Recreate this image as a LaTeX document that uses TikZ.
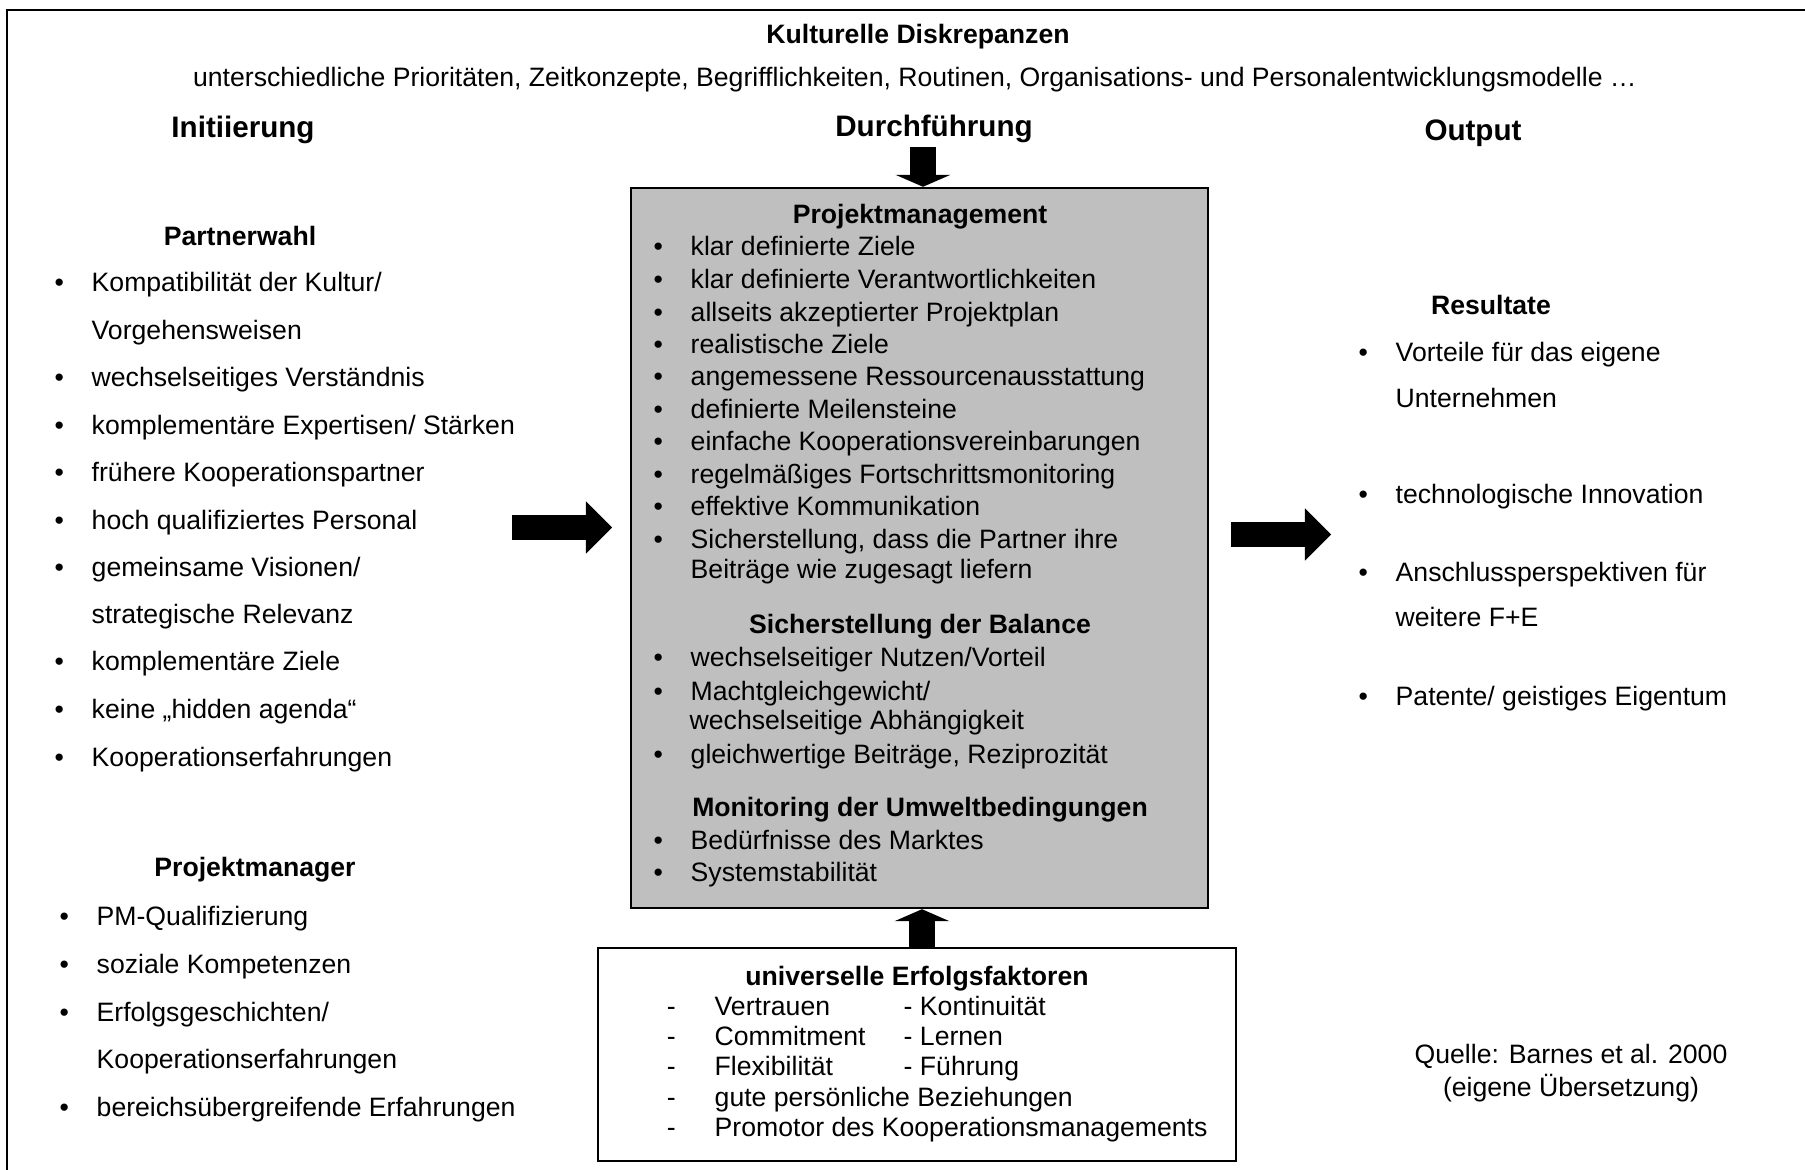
\documentclass[tikz,border=0pt]{standalone}
\usepackage{fontspec}
\setmainfont{Liberation Sans}
\usetikzlibrary{arrows.meta}
\newcommand\txtfont{\fontsize{7.57pt}{9.2pt}\selectfont}
\newcommand\hdfont{\fontsize{8.42pt}{10pt}\selectfont\bfseries}
\tikzset{
    txt/.style={anchor=west,inner sep=0pt,text height=1.76mm,text depth=0mm,font=\txtfont},
    hd/.style={inner sep=0pt,text height=1.76mm,text depth=0mm,font=\txtfont\bfseries},
    phase/.style={inner sep=0pt,text height=1.95mm,text depth=0mm,font=\hdfont},
    itm/.style={txt,label={[inner sep=0pt,label distance=2.63mm,text height=1.76mm,text depth=0mm,font=\txtfont]left:\textbullet}},
    dsh/.style={txt,label={[inner sep=0pt,label distance=3.76mm,text height=1.76mm,text depth=0mm,font=\txtfont]left:-}},
    fatarrow/.style={line width=2.5mm,-{Triangle[length=2.6mm,width=5.2mm,line width=0pt]}},
    flatarrow/.style={line width=2.6mm,-{Triangle[length=1.2mm,width=5.5mm,line width=0pt]}},
    box/.style={draw,line width=0.2mm,inner sep=0pt}
}
\begin{document}
\begin{tikzpicture}[x=0.01cm,y=-0.01cm]
    \useasboundingbox (0,0) rectangle (1805,1170);
    \draw[line width=0.15mm] (1805,10) -- (7,10) -- (7,1170);
    % header
    \node[hd] (kd) at (918,35) {Kulturelle Diskrepanzen};
    \node[hd,font=\txtfont] (kdtxt) at (915,78) {unterschiedliche Prioritäten, Zeitkonzepte, Begrifflichkeiten, Routinen, Organisations- und Personalentwicklungsmodelle …};
    \node[phase] (init) at (243,128) {Initiierung};
    \node[phase] (durch) at (934,127) {Durchführung};
    \node[phase] (outp) at (1473,131) {Output};
    % boxes
    \node[box,fill=gray!50,minimum width=5.77cm,minimum height=7.20cm] (pm) at (919.5,548) {};
    \node[box,fill=white,minimum width=6.38cm,minimum height=2.13cm] (uef) at (917,1054.5) {};
    % arrows
    \coordinate (inl) at (512,527.5); \coordinate (inr) at (612,527.5);
    \coordinate (outl) at (1231,534.5); \coordinate (outr) at (1331,534.5);
    \coordinate (pmin) at (923,147); \coordinate (upx) at (922,0);
    \draw[fatarrow] (inl) -- (inr);
    \draw[fatarrow] (outl) -- (outr);
    \draw[flatarrow] (pmin) -- (pm.north -| pmin);
    \draw[flatarrow] (uef.north -| upx) -- (pm.south -| upx);
    % Initiierung
    \node[hd] (pw) at (240,237) {Partnerwahl};
    \node[itm] (pw1) at (91,283) {Kompatibilität der Kultur/};
    \node[txt] (pw1b) at (91,331) {Vorgehensweisen};
    \node[itm] (pw2) at (91,378) {wechselseitiges Verständnis};
    \node[itm] (pw3) at (91,426) {komplementäre Expertisen/ Stärken};
    \node[itm] (pw4) at (91,473) {frühere Kooperationspartner};
    \node[itm] (pw5) at (91,521) {hoch qualifiziertes Personal};
    \node[itm] (pw6) at (91,568) {gemeinsame Visionen/};
    \node[txt] (pw6b) at (91,615) {strategische Relevanz};
    \node[itm] (pw7) at (91,662) {komplementäre Ziele};
    \node[itm] (pw8) at (91,710) {keine „hidden agenda“};
    \node[itm] (pw9) at (91,758) {Kooperationserfahrungen};
    \node[hd] (pmg) at (255,868) {Projektmanager};
    \node[itm] (pmg1) at (96,917) {PM-Qualifizierung};
    \node[itm] (pmg2) at (96,965) {soziale Kompetenzen};
    \node[itm] (pmg3) at (96,1013) {Erfolgsgeschichten/};
    \node[txt] (pmg3b) at (96,1060) {Kooperationserfahrungen};
    \node[itm] (pmg4) at (96,1108) {bereichsübergreifende Erfahrungen};
    % Durchfuehrung
    \node[hd] (pmh) at (920,215) {Projektmanagement};
    \node[itm] (pm1) at (690,247) {klar definierte Ziele};
    \node[itm] (pm2) at (690,280) {klar definierte Verantwortlichkeiten};
    \node[itm] (pm3) at (690,313) {allseits akzeptierter Projektplan};
    \node[itm] (pm4) at (690,345) {realistische Ziele};
    \node[itm] (pm5) at (690,377) {angemessene Ressourcenausstattung};
    \node[itm] (pm6) at (690,410) {definierte Meilensteine};
    \node[itm] (pm7) at (690,442) {einfache Kooperationsvereinbarungen};
    \node[itm] (pm8) at (690,475) {regelmäßiges Fortschrittsmonitoring};
    \node[itm] (pm9) at (690,507) {effektive Kommunikation};
    \node[itm] (pm10) at (690,540) {Sicherstellung, dass die Partner ihre};
    \node[txt] (pm10b) at (690,570) {Beiträge wie zugesagt liefern};
    \node[hd] (bal) at (920,625) {Sicherstellung der Balance};
    \node[itm] (bal1) at (690,658) {wechselseitiger Nutzen/Vorteil};
    \node[itm] (bal2) at (690,692) {Machtgleichgewicht/};
    \node[txt] (bal2b) at (689,721) {wechselseitige Abhängigkeit};
    \node[itm] (bal3) at (690,755) {gleichwertige Beiträge, Reziprozität};
    \node[hd] (env) at (920,808) {Monitoring der Umweltbedingungen};
    \node[itm] (env1) at (690,841) {Bedürfnisse des Marktes};
    \node[itm] (env2) at (690,873) {Systemstabilität};
    \node[hd] (ueh) at (917,977) {universelle Erfolgsfaktoren};
    \node[dsh] (ue1) at (714,1007) {Vertrauen};
    \node[txt] (ue1b) at (903,1007) {- Kontinuität};
    \node[dsh] (ue2) at (714,1037) {Commitment};
    \node[txt] (ue2b) at (903,1037) {- Lernen};
    \node[dsh] (ue3) at (714,1067) {Flexibilität};
    \node[txt] (ue3b) at (903,1067) {- Führung};
    \node[dsh] (ue4) at (714,1098) {gute persönliche Beziehungen};
    \node[dsh] (ue5) at (714,1128) {Promotor des Kooperationsmanagements};
    % Output
    \node[hd] (res) at (1491,306) {Resultate};
    \node[itm] (res1) at (1395,353) {Vorteile für das eigene};
    \node[txt] (res1b) at (1395,399) {Unternehmen};
    \node[itm] (res2) at (1395,495) {technologische Innovation};
    \node[itm] (res3) at (1395,573) {Anschlussperspektiven für};
    \node[txt] (res3b) at (1395,618) {weitere F+E};
    \node[itm] (res4) at (1395,697) {Patente/ geistiges Eigentum};
    \node[align=center,inner sep=0pt,font=\fontsize{7.57pt}{9.39pt}\selectfont] (src) at (1571,1073) {Quelle: Barnes et al. 2000\\(eigene Übersetzung)};
\end{tikzpicture}
\end{document}
